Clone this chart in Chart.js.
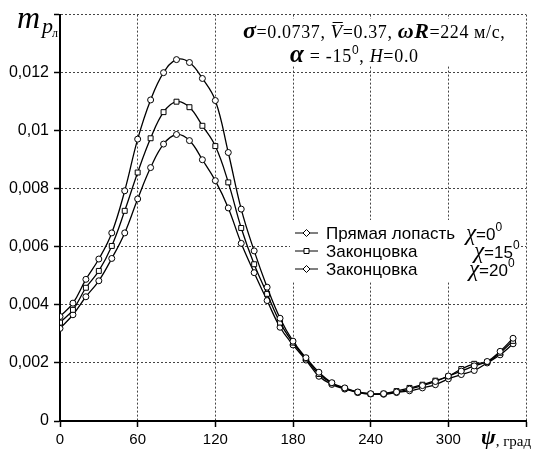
<!DOCTYPE html>
<html>
<head>
<meta charset="utf-8">
<script src="https://cdn.jsdelivr.net/npm/chart.js@4/dist/chart.umd.min.js"></script>
<style>
  html, body { margin: 0; padding: 0; background: #fff; }
  #wrap { width: 540px; height: 453px; }
</style>
</head>
<body>
<div id="wrap"><canvas id="bladeChart" width="540" height="453"></canvas></div>
<script>
// Azimuth angle psi, deg
const PSI_DEG = [0, 10, 20, 30, 40, 50, 60, 70, 80, 90, 100, 110, 120, 130, 140, 150, 160, 170,
  180, 190, 200, 210, 220, 230, 240, 250, 260, 270, 280, 290, 300, 310, 320, 330, 340, 350];

// m_p for straight blade, chi = 0
const MP_CHI_0 = [0.0036, 0.00406, 0.00488, 0.00558, 0.00648, 0.00793, 0.00971, 0.01106, 0.0120, 0.01245,
  0.01235, 0.0118, 0.01104, 0.00925, 0.0073, 0.00586, 0.00461, 0.00354, 0.00275, 0.00218, 0.00168,
  0.00132, 0.00114, 0.0010, 0.00094, 0.00094, 0.0010, 0.0011, 0.00122, 0.00136, 0.00155, 0.00172,
  0.0019, 0.00205, 0.0024, 0.00285];

// m_p for swept tip, chi = 15
const MP_CHI_15 = [0.00339, 0.00383, 0.00459, 0.00517, 0.00603, 0.00724, 0.00856, 0.00974, 0.01064, 0.0110,
  0.01081, 0.01017, 0.00947, 0.00822, 0.00665, 0.0054, 0.00438, 0.00339, 0.0027, 0.00215, 0.00162,
  0.0013, 0.00112, 0.00099, 0.00093, 0.00094, 0.00103, 0.00114, 0.00125, 0.00139, 0.00154, 0.00179,
  0.00197, 0.00203, 0.00235, 0.00276];

// m_p for swept tip, chi = 20
const MP_CHI_20 = [0.00319, 0.00366, 0.00428, 0.00483, 0.0056, 0.00648, 0.00765, 0.00873, 0.00954, 0.00987,
  0.00966, 0.009, 0.00828, 0.00734, 0.00612, 0.00511, 0.00415, 0.00323, 0.00262, 0.0021, 0.00154,
  0.00126, 0.0011, 0.00098, 0.00093, 0.00092, 0.00098, 0.00104, 0.00114, 0.00125, 0.00145, 0.0016,
  0.00174, 0.002, 0.00228, 0.00266];

const LEGEND_NAMES = ["Прямая лопасть", "Законцовка", "Законцовка"];
const LEGEND_CHI = ["0", "15", "20"];

const SERIF = "'Liberation Serif', 'Times New Roman', serif";
const SANS = "'Liberation Sans', Arial, sans-serif";

/**
 * Build {x, y} points from psi and a value list.
 */
function toPoints(valueList) {
  return PSI_DEG.map((psi, i) => ({ x: psi, y: valueList[i] }));
}

/**
 * Draw a row of text runs with different fonts, starting at x.
 */
function drawRuns(ctx, x, baseline, runs, spacing) {
  ctx.letterSpacing = (spacing || 0) + "px";
  runs.forEach((run) => {
    ctx.font = run.font;
    const w = ctx.measureText(run.text).width;
    ctx.fillText(run.text, x, baseline + (run.dy || 0));
    if (run.overline) {
      ctx.fillRect(x + 2, baseline - 16, w - 2, 1);
    }
    x += w;
  });
  ctx.letterSpacing = "0px";
  return x;
}

function drawMarker(ctx, style, x, y) {
  ctx.beginPath();
  if (style === "rect") {
    ctx.rect(x - 2.5, y - 2.5, 5, 5);
  } else {
    ctx.moveTo(x, y - 3.5);
    ctx.lineTo(x + 3.5, y);
    ctx.lineTo(x, y + 3.5);
    ctx.lineTo(x - 3.5, y);
    ctx.closePath();
  }
  ctx.fillStyle = "#fff";
  ctx.fill();
  ctx.stroke();
}

const TEXT_PLUGIN = {
  id: "chartTexts",
  afterDraw(chart) {
    const ctx = chart.ctx;
    ctx.save();
    ctx.textBaseline = "alphabetic";
    ctx.textAlign = "left";

    // Parameter box
    ctx.fillStyle = "#fff";
    ctx.fillRect(237, 19, 282, 47);
    ctx.fillStyle = "#000";
    drawRuns(ctx, 243, 38, [
      { text: "σ", font: "bold italic 24px " + SERIF },
      { text: "=0.0737, ", font: "18px " + SERIF },
      { text: "V", font: "italic 19px " + SERIF, overline: true },
      { text: "=0.37, ", font: "18px " + SERIF },
      { text: "ωR", font: "bold italic 22px " + SERIF },
      { text: "=224 м/с,", font: "18px " + SERIF }
    ], 0.6);
    drawRuns(ctx, 290, 62, [
      { text: "α", font: "bold italic 25px " + SERIF },
      { text: " = -15", font: "18px " + SERIF },
      { text: "0", font: "12px " + SANS, dy: -8 },
      { text: ", ", font: "18px " + SERIF },
      { text: "H", font: "italic 18px " + SERIF },
      { text: "=0.0", font: "18px " + SERIF }
    ], 0.7);

    // Legend box
    ctx.fillStyle = "#fff";
    ctx.fillRect(290, 220, 228, 62);
    const ROW_Y = [233, 251, 269];
    const CHI_X = [466, 474, 469];
    const MARKERS = ["diamond", "rect", "diamond"];
    ctx.strokeStyle = "#000";
    ctx.lineWidth = 1;
    LEGEND_NAMES.forEach((name, i) => {
      const y = ROW_Y[i];
      ctx.beginPath();
      ctx.moveTo(295, y);
      ctx.lineTo(318, y);
      ctx.stroke();
      drawMarker(ctx, MARKERS[i], 306.5, y);
      ctx.fillStyle = "#000";
      drawRuns(ctx, 326, y + 6, [{ text: name, font: "17px " + SANS }]);
      drawRuns(ctx, CHI_X[i], y + 7, [
        { text: "χ", font: "italic 23px " + SERIF },
        { text: "=" + LEGEND_CHI[i], font: "17px " + SANS },
        { text: "0", font: "12px " + SANS, dy: -9 }
      ]);
    });

    // Axis titles
    ctx.fillStyle = "#000";
    drawRuns(ctx, 17, 28, [{ text: "m", font: "italic 32px " + SERIF }]);
    drawRuns(ctx, 42, 33, [{ text: "p", font: "italic 22px " + SERIF }]);
    drawRuns(ctx, 52, 37, [{ text: "л", font: "12px " + SERIF }]);
    drawRuns(ctx, 481, 444, [
      { text: "ψ", font: "bold italic 22px " + SERIF },
      { text: ", град", font: "15px " + SERIF, dy: 2 }
    ]);
    ctx.restore();
  }
};

const LINE_STYLE = {
  borderColor: "#000",
  borderWidth: 1.3,
  pointBackgroundColor: "#fff",
  pointBorderColor: "#000",
  pointBorderWidth: 1,
  tension: 0.4,
  fill: false
};

const CTX = document.getElementById("bladeChart").getContext("2d");

new Chart(CTX, {
  type: "line",
  data: {
    datasets: [{
      ...LINE_STYLE,
      label: "χ=0",
      data: toPoints(MP_CHI_0),
      pointStyle: "circle",
      pointRadius: 3
    }, {
      ...LINE_STYLE,
      label: "χ=15",
      data: toPoints(MP_CHI_15),
      pointStyle: "rect",
      pointRadius: 3.5
    }, {
      ...LINE_STYLE,
      label: "χ=20",
      data: toPoints(MP_CHI_20),
      pointStyle: "circle",
      pointRadius: 3
    }]
  },
  options: {
    responsive: false,
    animation: false,
    layout: { padding: { left: 0, top: 14, right: 14, bottom: 0 } },
    plugins: {
      legend: { display: false },
      tooltip: { enabled: false }
    },
    scales: {
      x: {
        type: "linear",
        min: 0,
        max: 360,
        afterFit: (scale) => { scale.height = 32; },
        ticks: {
          stepSize: 60,
          maxRotation: 0,
          padding: 4,
          color: "#000",
          font: { family: SANS, size: 15 },
          callback: (v) => (v === 360 ? "" : String(v))
        },
        grid: {
          color: "#444",
          lineWidth: 1,
          tickLength: 6,
          tickColor: "#000",
          tickWidth: 1.5,
          tickBorderDash: []
        },
        border: { color: "#000", width: 2, dash: [2, 2] }
      },
      y: {
        min: 0,
        max: 0.014,
        afterFit: (scale) => { scale.width = 60; },
        ticks: {
          stepSize: 0.002,
          padding: 5,
          color: "#000",
          font: { family: SANS, size: 16 },
          callback: (v) => {
            const r = Math.round(v * 1000) / 1000;
            return r >= 0.014 ? "" : String(r).replace(".", ",");
          }
        },
        grid: {
          color: "#444",
          lineWidth: 1,
          tickLength: 6,
          tickColor: "#000",
          tickWidth: 1.5,
          tickBorderDash: []
        },
        border: { color: "#000", width: 2, dash: [2, 2] }
      }
    }
  },
  plugins: [TEXT_PLUGIN]
});
</script>
</body>
</html>
